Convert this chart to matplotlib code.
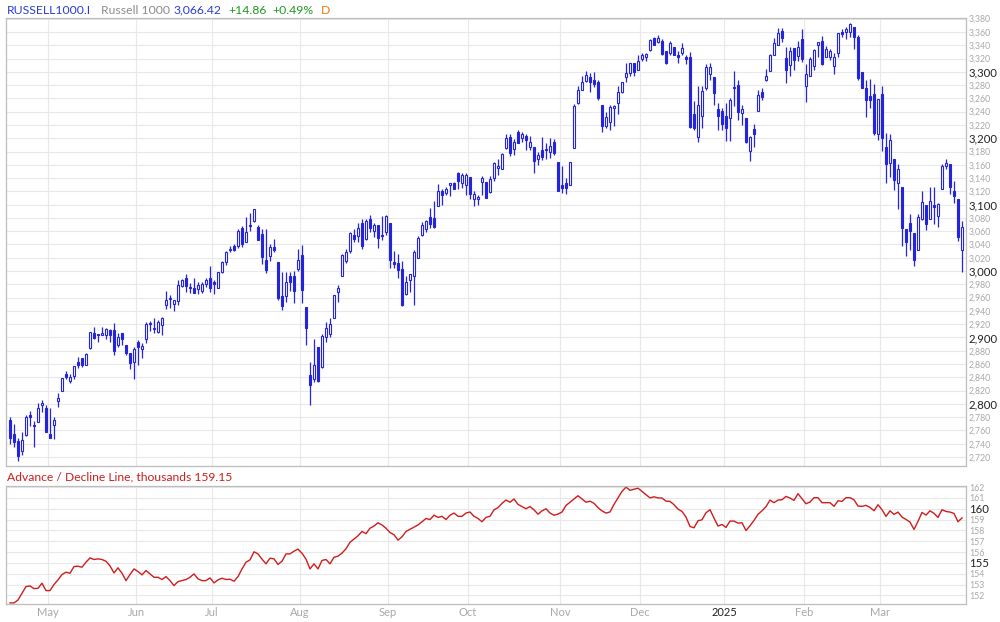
#!/usr/bin/env python3
"""Russell 1000 daily candles with the Advance / Decline line underneath."""

import matplotlib
matplotlib.use("Agg")
import matplotlib.pyplot as plt
import numpy as np
import pandas as pd

plt.rcParams["font.family"] = ["Lato", "DejaVu Sans"]

# Trading calendar: Apr 17 2024 .. Mar 31 2025 (NYSE holidays removed)
START, END = "2024-04-17", "2025-03-31"
HOLIDAYS = ["2024-05-27", "2024-06-19", "2024-07-04", "2024-09-02", "2024-11-28",
            "2024-12-25", "2025-01-01", "2025-01-09", "2025-01-20", "2025-02-17"]

opens = [
    2776, 2755, 2744, 2729, 2753, 2784, 2768, 2773, 2799, 2794, 2755, 2768, 2804, 2819, 2845, 2834,
    2842, 2863, 2869, 2859, 2884, 2906, 2905, 2904, 2903, 2911, 2911, 2888, 2906, 2888, 2876, 2863,
    2893, 2882, 2898, 2922, 2913, 2909, 2919, 2949, 2958, 2951, 2955, 2978, 2990, 2975, 2974, 2973,
    2970, 2981, 2990, 2983, 2975, 2999, 3014, 3032, 3037, 3038, 3065, 3044, 3070, 3075, 3066, 3056,
    3016, 3022, 3036, 3013, 2962, 2963, 2993, 2993, 3003, 3024, 2946, 2844, 2837, 2885, 2855, 2900,
    2905, 2930, 2968, 2993, 3015, 3030, 3055, 3053, 3072, 3048, 3079, 3061, 3069, 3055, 3059, 3072,
    3013, 3012, 3003, 2965, 2986, 2993, 3019, 3054, 3064, 3082, 3080, 3098, 3121, 3118, 3130, 3133,
    3147, 3133, 3129, 3142, 3108, 3108, 3134, 3134, 3119, 3140, 3155, 3154, 3185, 3202, 3184, 3209,
    3201, 3204, 3187, 3187, 3169, 3182, 3182, 3179, 3194, 3164, 3130, 3132, 3129, 3185, 3253, 3273,
    3286, 3292, 3287, 3284, 3250, 3219, 3225, 3245, 3253, 3269, 3292, 3298, 3314, 3302, 3320, 3323,
    3333, 3351, 3345, 3346, 3331, 3329, 3337, 3325, 3329, 3322, 3322, 3237, 3202, 3233, 3276, 3297,
    3292, 3244, 3241, 3233, 3231, 3277, 3280, 3238, 3231, 3181, 3214, 3241, 3270, 3287, 3301, 3325,
    3341, 3361, 3321, 3310, 3336, 3324, 3349, 3279, 3294, 3308, 3341, 3346, 3323, 3322, 3308, 3329,
    3360, 3360, 3360, 3367, 3353, 3300, 3276, 3264, 3267, 3207, 3267, 3187, 3162, 3169, 3132, 3127,
    3063, 3072, 3058, 3031, 3078, 3100, 3078, 3099, 3083, 3123, 3158, 3161, 3120, 3109, 3031,
]
highs = [
    2781, 2769, 2749, 2758, 2784, 2789, 2774, 2802, 2806, 2798, 2794, 2781, 2816, 2839, 2850, 2845,
    2857, 2871, 2869, 2877, 2909, 2916, 2905, 2916, 2915, 2913, 2922, 2906, 2906, 2888, 2876, 2886,
    2896, 2892, 2924, 2925, 2929, 2927, 2931, 2970, 2964, 2956, 2987, 2988, 2995, 2982, 2990, 2983,
    2984, 2990, 3007, 2986, 2999, 3015, 3030, 3037, 3040, 3064, 3068, 3081, 3088, 3094, 3069, 3063,
    3063, 3040, 3048, 3013, 2998, 2998, 2998, 3000, 3033, 3039, 2946, 2863, 2897, 2885, 2905, 2924,
    2929, 2964, 2979, 3025, 3033, 3059, 3064, 3072, 3078, 3078, 3085, 3073, 3070, 3083, 3084, 3072,
    3030, 3025, 3015, 2993, 2996, 3032, 3053, 3074, 3077, 3095, 3105, 3131, 3123, 3127, 3132, 3134,
    3149, 3148, 3147, 3142, 3120, 3115, 3143, 3134, 3143, 3164, 3168, 3178, 3207, 3206, 3199, 3213,
    3209, 3207, 3203, 3187, 3180, 3202, 3193, 3200, 3199, 3164, 3158, 3140, 3164, 3252, 3279, 3293,
    3301, 3298, 3299, 3288, 3250, 3240, 3250, 3250, 3278, 3285, 3314, 3314, 3314, 3325, 3329, 3329,
    3350, 3352, 3355, 3349, 3332, 3347, 3338, 3331, 3343, 3326, 3330, 3256, 3278, 3278, 3311, 3313,
    3292, 3253, 3246, 3253, 3261, 3301, 3288, 3250, 3231, 3203, 3222, 3273, 3276, 3304, 3327, 3351,
    3366, 3366, 3337, 3337, 3336, 3347, 3364, 3312, 3322, 3335, 3345, 3354, 3339, 3334, 3329, 3358,
    3364, 3368, 3373, 3367, 3355, 3300, 3288, 3289, 3281, 3259, 3278, 3208, 3207, 3169, 3161, 3127,
    3063, 3086, 3058, 3086, 3120, 3100, 3127, 3127, 3103, 3161, 3169, 3161, 3136, 3109, 3075,
]
lows = [
    2740, 2735, 2714, 2723, 2752, 2766, 2735, 2772, 2788, 2757, 2749, 2747, 2795, 2819, 2838, 2832,
    2837, 2854, 2855, 2858, 2883, 2898, 2893, 2903, 2898, 2893, 2874, 2885, 2888, 2874, 2853, 2837,
    2858, 2869, 2891, 2910, 2906, 2906, 2904, 2943, 2944, 2940, 2949, 2976, 2969, 2967, 2967, 2966,
    2967, 2976, 2968, 2965, 2974, 2997, 3009, 3028, 3030, 3035, 3036, 3044, 3060, 3074, 3047, 3010,
    2997, 3015, 3028, 2956, 2941, 2953, 2970, 2952, 3000, 2952, 2889, 2799, 2833, 2833, 2854, 2893,
    2900, 2929, 2954, 2993, 3012, 3027, 3044, 3044, 3033, 3047, 3059, 3052, 3035, 3047, 3054, 3004,
    3004, 2990, 2947, 2964, 2968, 2949, 3019, 3053, 3059, 3065, 3065, 3098, 3100, 3115, 3113, 3123,
    3123, 3125, 3115, 3108, 3098, 3100, 3115, 3110, 3118, 3135, 3145, 3154, 3184, 3173, 3174, 3193,
    3195, 3183, 3182, 3148, 3160, 3167, 3168, 3170, 3175, 3120, 3117, 3116, 3129, 3185, 3252, 3272,
    3285, 3270, 3277, 3258, 3209, 3215, 3212, 3218, 3236, 3268, 3285, 3293, 3293, 3302, 3317, 3317,
    3332, 3340, 3343, 3326, 3311, 3326, 3325, 3313, 3326, 3312, 3215, 3213, 3195, 3216, 3273, 3288,
    3250, 3213, 3213, 3196, 3196, 3248, 3228, 3220, 3193, 3166, 3187, 3241, 3257, 3286, 3301, 3325,
    3341, 3345, 3283, 3294, 3303, 3316, 3315, 3255, 3293, 3303, 3322, 3310, 3322, 3318, 3297, 3322,
    3353, 3350, 3353, 3335, 3288, 3275, 3232, 3246, 3205, 3197, 3181, 3132, 3142, 3122, 3093, 3037,
    3022, 3032, 3007, 3031, 3077, 3062, 3078, 3071, 3067, 3123, 3153, 3116, 3102, 3046, 2998,
]
closes = [
    2748, 2742, 2721, 2746, 2781, 2780, 2766, 2794, 2802, 2758, 2749, 2776, 2809, 2839, 2841, 2841,
    2857, 2859, 2859, 2875, 2908, 2899, 2903, 2906, 2913, 2903, 2879, 2900, 2898, 2876, 2861, 2883,
    2885, 2887, 2921, 2920, 2915, 2924, 2930, 2956, 2959, 2956, 2979, 2986, 2978, 2974, 2967, 2979,
    2980, 2986, 2975, 2981, 2999, 3013, 3028, 3033, 3032, 3061, 3040, 3059, 3068, 3093, 3047, 3021,
    3002, 3036, 3031, 2959, 2948, 2983, 2984, 2970, 3016, 2972, 2915, 2828, 2859, 2835, 2902, 2915,
    2920, 2964, 2974, 3024, 3029, 3058, 3049, 3065, 3038, 3076, 3065, 3070, 3050, 3053, 3083, 3017,
    3011, 3002, 2949, 2983, 2996, 3028, 3050, 3070, 3075, 3071, 3067, 3121, 3114, 3124, 3132, 3124,
    3135, 3144, 3145, 3116, 3116, 3112, 3140, 3110, 3139, 3162, 3158, 3176, 3201, 3178, 3194, 3193,
    3206, 3197, 3194, 3165, 3174, 3172, 3184, 3189, 3177, 3120, 3125, 3125, 3164, 3249, 3272, 3285,
    3295, 3284, 3282, 3260, 3219, 3232, 3247, 3249, 3269, 3284, 3298, 3313, 3300, 3317, 3325, 3327,
    3348, 3341, 3351, 3327, 3314, 3343, 3325, 3323, 3336, 3320, 3217, 3215, 3250, 3271, 3307, 3307,
    3268, 3234, 3221, 3215, 3257, 3275, 3239, 3244, 3195, 3202, 3207, 3265, 3262, 3293, 3325, 3343,
    3359, 3351, 3302, 3332, 3318, 3338, 3320, 3297, 3320, 3333, 3345, 3312, 3334, 3332, 3322, 3358,
    3357, 3365, 3372, 3353, 3291, 3275, 3258, 3258, 3208, 3259, 3200, 3161, 3197, 3137, 3154, 3065,
    3044, 3061, 3016, 3082, 3104, 3071, 3106, 3097, 3101, 3158, 3163, 3126, 3113, 3051, 3066.42,
]

# Advance / Decline line, thousands
ad_line = [
    151.30, 151.30, 151.57, 152.19, 152.81, 152.87, 152.62, 152.65, 153.12, 152.44, 152.44, 153.00,
    153.43, 153.92, 154.14, 154.04, 154.66, 154.69, 154.60, 155.06, 155.46, 155.31, 155.37, 155.31,
    155.15, 154.72, 154.07, 154.54, 154.04, 153.36, 153.92, 154.44, 154.20, 153.89, 154.29, 153.98,
    153.67, 153.67, 153.46, 153.73, 153.36, 152.90, 153.27, 153.36, 153.46, 153.67, 153.98, 153.52,
    153.36, 153.36, 153.61, 153.15, 153.43, 153.58, 153.46, 153.49, 153.30, 153.73, 154.44, 155.06,
    155.28, 156.02, 155.83, 155.34, 154.91, 155.43, 155.37, 154.85, 155.15, 155.83, 155.83, 156.08,
    156.27, 155.89, 155.34, 154.44, 154.91, 154.44, 155.22, 155.31, 154.91, 155.52, 155.62, 155.90,
    156.30, 156.90, 157.20, 157.50, 157.90, 157.70, 158.20, 158.40, 158.70, 158.50, 158.20, 157.80,
    157.60, 157.10, 157.40, 157.90, 158.10, 158.30, 158.50, 158.80, 159.10, 159.00, 159.40, 159.20,
    159.30, 159.00, 159.40, 159.60, 159.30, 159.30, 159.60, 159.70, 159.30, 159.10, 158.80, 159.20,
    159.30, 159.90, 160.10, 160.50, 160.80, 160.60, 160.90, 160.40, 160.20, 160.00, 160.20, 159.90,
    159.50, 159.80, 160.00, 159.60, 159.40, 159.50, 159.70, 160.30, 160.60, 160.90, 161.20, 160.90,
    160.60, 160.70, 160.50, 160.10, 159.80, 159.60, 159.70, 160.40, 161.00, 161.60, 162.00, 161.70,
    161.80, 161.90, 161.60, 161.30, 161.00, 161.10, 161.00, 160.99, 160.70, 160.68, 160.37, 159.97,
    159.75, 159.23, 158.36, 158.24, 158.89, 158.98, 159.63, 159.91, 159.14, 158.40, 158.55, 158.27,
    158.86, 158.86, 158.67, 158.70, 157.99, 158.43, 158.92, 159.48, 159.81, 160.19, 160.80, 160.56,
    160.80, 160.83, 161.14, 160.99, 160.77, 161.39, 160.93, 160.46, 160.62, 161.02, 161.02, 160.56,
    160.56, 160.56, 160.22, 160.74, 160.68, 161.02, 161.02, 160.83, 160.25, 160.22, 160.31, 160.12,
    159.81, 160.37, 159.91, 159.29, 159.81, 159.48, 159.69, 159.23, 159.01, 158.77, 158.09, 158.83,
    159.66, 159.41, 159.81, 159.57, 159.20, 159.91, 159.75, 159.69, 159.57, 158.80, 159.15,
]

BLUE = "#2424dc"
RED = "#d01c1c"
GRID = "#e8e8e8"
SPINE = "#bdbdbd"
LABEL_GRAY = "#a8a8a8"


def style_panel(ax, ymin, ymax, step, major, fmt):
    ax.set_ylim(ymin, ymax)
    ticks = np.arange(np.ceil(ymin / step) * step, ymax + 1e-9, step)
    ax.set_yticks(ticks)
    ax.set_yticklabels([fmt(t) for t in ticks])
    ax.yaxis.tick_right()
    ax.tick_params(axis="y", length=0, pad=2)
    # right-hand labels live in label2 of each tick
    for t, tick in zip(ticks, ax.yaxis.get_major_ticks()):
        lab = tick.label2
        if abs(t / major - round(t / major)) < 1e-6:
            lab.set_color("#222222")
            lab.set_fontsize(8.2)
        else:
            lab.set_color(LABEL_GRAY)
            lab.set_fontsize(6.3)
    ax.grid(True, axis="both", color=GRID, linewidth=0.8)
    ax.set_axisbelow(True)
    for sp in ax.spines.values():
        sp.set_color(SPINE)
        sp.set_linewidth(0.9)


def main():
    dates = pd.bdate_range(START, END)
    dates = dates[~dates.isin(pd.to_datetime(HOLIDAYS))]
    o, h, l, c = (np.asarray(a, dtype=float) for a in (opens, highs, lows, closes))
    assert len(dates) == len(c) == len(ad_line)
    x = np.arange(len(c))

    # month boundaries for the vertical grid / labels
    firsts = np.flatnonzero(dates.month != np.roll(dates.month, 1))[1:]
    month_pos = firsts - 0.5
    month_lab = [dates[k].strftime("%Y") if dates[k].month == 1 else dates[k].strftime("%b")
                 for k in firsts]

    fig = plt.figure(figsize=(10.0, 6.22), dpi=100)
    ax = fig.add_axes([0.006, 1 - 466 / 622, 0.960, 448 / 622])
    ax2 = fig.add_axes([0.006, 1 - 604 / 622, 0.960, 118 / 622], sharex=ax)

    # candles
    up = c >= o
    bottom = np.minimum(o, c)
    height = np.maximum(np.abs(c - o), 1.5)
    ax.vlines(x, l, h, color=BLUE, linewidth=0.9, zorder=2)
    ax.bar(x[up], height[up], bottom=bottom[up], width=0.5, facecolor="white",
           edgecolor=BLUE, linewidth=0.8, zorder=3)
    ax.bar(x[~up], height[~up], bottom=bottom[~up], width=0.5, facecolor=BLUE,
           edgecolor=BLUE, linewidth=0.8, zorder=3)

    style_panel(ax, 2706.5, 3381, 20, 100, lambda v: f"{v:,.0f}")
    ax.set_xlim(-1, len(c))
    ax.set_xticks(month_pos)
    ax.tick_params(axis="x", length=0, labelbottom=False)

    # A/D line
    ax2.plot(x, ad_line, color=RED, linewidth=1.0)
    style_panel(ax2, 151.2, 162.1, 1, 5, lambda v: f"{v:.0f}")
    ax2.set_xticks(month_pos)
    ax2.set_xticklabels(month_lab)
    ax2.tick_params(axis="x", length=0, pad=2, labelsize=8, labelcolor=LABEL_GRAY)
    for lab in ax2.get_xticklabels():
        if lab.get_text().isdigit():
            lab.set_color("#222222")

    # header
    yh = 1 - 10 / 622
    header = [(0.007, "RUSSELL1000.I", "#2b3fd4"), (0.101, "Russell 1000", "#8c8c8c"),
              (0.173, "3,066.42", "#2b3fd4"), (0.228, "+14.86", "#1f9a1f"),
              (0.272, "+0.49%", "#1f9a1f"), (0.321, "D", "#f07a10")]
    for xf, txt, col in header:
        fig.text(xf, yh, txt, color=col, fontsize=8.8, va="center", ha="left")

    fig.text(0.007, 1 - 477 / 622, f"Advance / Decline Line, thousands {ad_line[-1]:.2f}",
             color=RED, fontsize=8.7, va="center", ha="left")

    fig.savefig("out.png", dpi=100)


if __name__ == "__main__":
    main()
